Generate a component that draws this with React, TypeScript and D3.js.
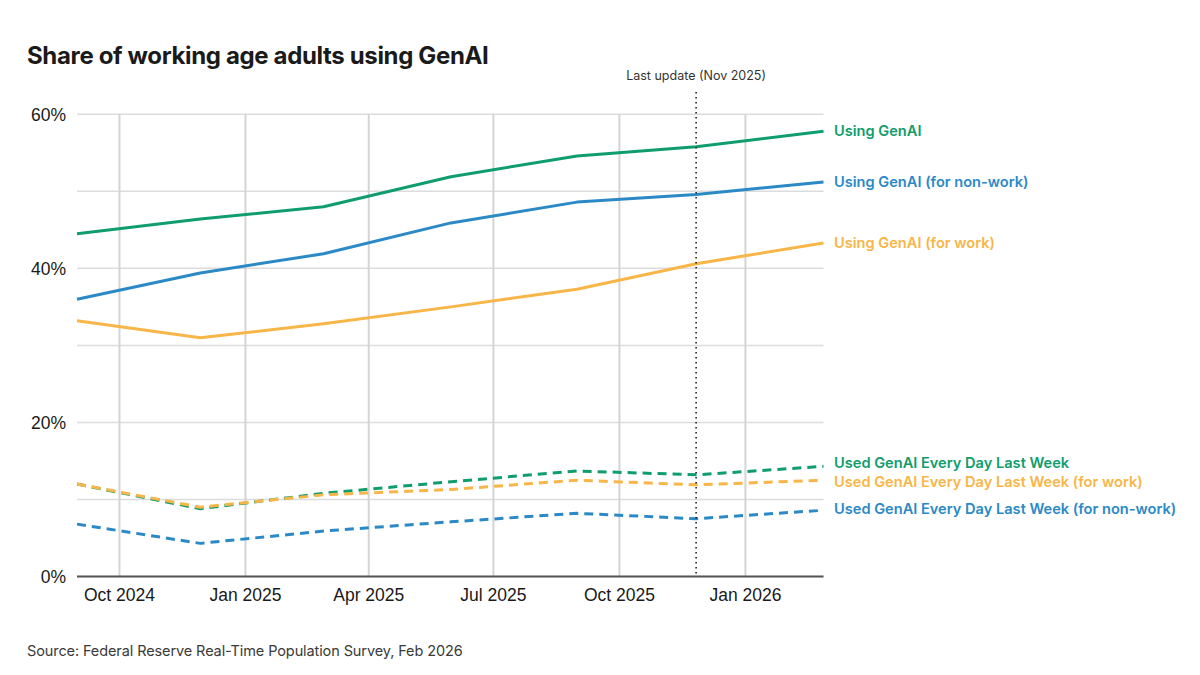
import React from "react";
import * as d3 from "d3";

const dates = ["2024-08-31", "2024-11-29", "2025-02-27", "2025-05-31", "2025-08-31", "2025-11-26", "2026-02-27"];
const usingGenAI = [44.5, 46.4, 48.0, 51.9, 54.6, 55.8, 57.8];
const usingNonWork = [36.0, 39.4, 41.9, 45.9, 48.6, 49.6, 51.2];
const usingWork = [33.2, 31.0, 32.8, 35.0, 37.3, 40.6, 43.3];
const dailyAll = [12.0, 8.8, 10.8, 12.3, 13.7, 13.2, 14.3];
const dailyWork = [12.0, 9.0, 10.6, 11.3, 12.5, 11.9, 12.5];
const dailyNonWork = [6.8, 4.3, 5.9, 7.1, 8.2, 7.5, 8.6];
const seriesNames = [
  "Using GenAI",
  "Using GenAI (for non-work)",
  "Using GenAI (for work)",
  "Used GenAI Every Day Last Week",
  "Used GenAI Every Day Last Week (for work)",
  "Used GenAI Every Day Last Week (for non-work)",
];
const yTicks = [0, 10, 20, 30, 40, 50, 60];
const yLabelTicks = [0, 20, 40, 60];
const lastUpdate = "2025-11-26";
const lastUpdateLabel = "Last update (Nov 2025)";
const title = "Share of working age adults using GenAI";
const source = "Source: Federal Reserve Real-Time Population Survey, Feb 2026";

const GREEN = "#0f9d6c";
const BLUE = "#2b89c6";
const ORANGE = "#f8b548";

const series = [
  { name: seriesNames[0], values: usingGenAI, color: GREEN, dashed: false, dy: 0 },
  { name: seriesNames[1], values: usingNonWork, color: BLUE, dashed: false, dy: 0 },
  { name: seriesNames[2], values: usingWork, color: ORANGE, dashed: false, dy: 0 },
  { name: seriesNames[3], values: dailyAll, color: GREEN, dashed: true, dy: -3 },
  { name: seriesNames[4], values: dailyWork, color: ORANGE, dashed: true, dy: 1.5 },
  { name: seriesNames[5], values: dailyNonWork, color: BLUE, dashed: true, dy: -1.5 },
];

const parse = d3.timeParse("%Y-%m-%d");
const dateObjs = dates.map((d) => parse(d) as Date);

export default function App() {
  const W = 1200;
  const H = 675;
  const left = 77;
  const right = 823.5;
  const top = 114.3;
  const bottom = 576.5;

  const x = d3.scaleTime().domain([dateObjs[0], dateObjs[dateObjs.length - 1]]).range([left, right]);
  const y = d3.scaleLinear().domain([0, 60]).range([bottom, top]);
  const xTicks = x.ticks(d3.timeMonth.every(3) as any);
  const fmt = d3.timeFormat("%b %Y");

  const line = d3
    .line<number>()
    .x((_, i) => x(dateObjs[i]))
    .y((v) => y(v));

  const xLU = x(parse(lastUpdate) as Date);

  return (
    <svg width={W} height={H} style={{ position: "absolute", left: 0, top: 0, background: "#fff" }}>
      <rect width={W} height={H} fill="#fff" />
      <text x={27} y={64} fontFamily="Inter" fontWeight={700} fontSize={24} letterSpacing={-0.35} fill="#1a1a1a">
        {title}
      </text>
      {yTicks.map((t) => (
        <line key={"gy" + t} x1={left} x2={right} y1={y(t)} y2={y(t)} stroke="#dcdcdc" strokeWidth={1.5} />
      ))}
      {xTicks.map((t, i) => (
        <line key={"gx" + i} x1={x(t)} x2={x(t)} y1={top} y2={bottom} stroke="#d4d4d4" strokeWidth={2} />
      ))}
      {yLabelTicks.map((t) => (
        <text
          key={"yl" + t}
          x={66}
          y={y(t)}
          dy="0.36em"
          textAnchor="end"
          fontFamily="Liberation Sans, Arial"
          fontSize={17.5}
          fill="#1a1a1a"
        >
          {t + "%"}
        </text>
      ))}
      {xTicks.map((t, i) => (
        <text
          key={"xl" + i}
          x={x(t)}
          y={600.5}
          textAnchor="middle"
          fontFamily="Liberation Sans, Arial"
          fontSize={17.5}
          fill="#1a1a1a"
        >
          {fmt(t)}
        </text>
      ))}
      <line x1={left} x2={right} y1={bottom} y2={bottom} stroke="#555" strokeWidth={2} />
      {series.map((s) => (
        <path
          key={s.name}
          d={line(s.values) || ""}
          fill="none"
          stroke={s.color}
          strokeWidth={3}
          strokeDasharray={s.dashed ? "9,6" : undefined}
          strokeLinejoin="round"
        />
      ))}
      <line x1={xLU} x2={xLU} y1={92} y2={bottom} stroke="#222" strokeWidth={1.6} strokeDasharray="1.6,3.4" />
      <text x={xLU} y={80} textAnchor="middle" fontFamily="Inter" fontSize={12.5} fill="#333">
        {lastUpdateLabel}
      </text>
      {series.map((s) => (
        <text
          key={"lab" + s.name}
          x={834}
          y={y(s.values[s.values.length - 1]) + s.dy}
          dy="0.35em"
          fontFamily="Inter"
          fontWeight={600}
          fontSize={14.6}
          fill={s.color}
        >
          {s.name}
        </text>
      ))}
      <text x={27} y={656} fontFamily="Inter" fontSize={14.5} letterSpacing={-0.1} fill="#3a3a3a">
        {source}
      </text>
    </svg>
  );
}
